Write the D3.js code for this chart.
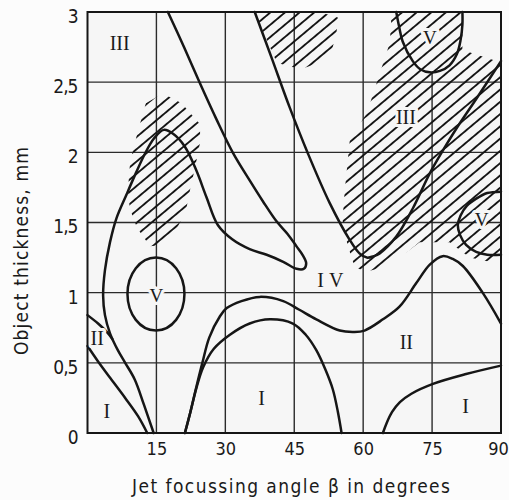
<!DOCTYPE html>
<html>
<head>
<meta charset="utf-8">
<script src="https://cdn.jsdelivr.net/npm/d3@7"></script>
<style>
  html, body { margin: 0; padding: 0; background: #fcfcfc; }
  svg { display: block; }
  text { font-family: "DejaVu Sans Condensed", "DejaVu Sans", sans-serif; fill: #1a1a1a; }
  .roman { font-family: "Liberation Serif", "DejaVu Serif", serif; }
</style>
</head>
<body>
<svg id="chart" width="509" height="500"></svg>
<script>
// ---------- data: jet focussing angle (deg) vs object thickness (mm) ----------
const xTickValues = [15, 30, 45, 60, 75, 90];
const yTickValues = [0, 0.5, 1, 1.5, 2, 2.5, 3];
const yTickLabels = ["0", "0,5", "1", "1,5", "2", "2,5", "3"];

// lower I / II boundary near the left edge
const boundaryLeftI = [[0, 0.62], [2.3, 0.51], [5, 0.39], [8.2, 0.25], [11, 0.12], [13, 0]];
// upper II boundary near the left edge, running into the large loop
const boundaryLeftII = [[0, 0.84], [2.3, 0.78], [4.2, 0.72], [5.4, 0.67]];
// large loop: up the left side, over the peak, to the tip and back to the top edge
const boundaryLoop = [
  [14.4, 0], [12.3, 0.2], [10.3, 0.38], [8.2, 0.5], [6.6, 0.59], [4.9, 0.71], [3.8, 0.84],
  [3.4, 0.98], [3.8, 1.16], [4.9, 1.36], [6.3, 1.53], [8.5, 1.70], [10.5, 1.85], [12.5, 1.99],
  [14.5, 2.10], [16.6, 2.16], [18.7, 2.13], [21.2, 2.04], [23.7, 1.87], [25.9, 1.68],
  [28.4, 1.48], [31.5, 1.38], [35.3, 1.31], [39, 1.27], [42.6, 1.22], [45.5, 1.17],
  [47.1, 1.17], [47.6, 1.21], [46.8, 1.27], [45.5, 1.33], [43.5, 1.42], [41.1, 1.51],
  [38.2, 1.65], [35.3, 1.80], [31.6, 2.0], [28, 2.24], [24.5, 2.49], [21, 2.75], [17.5, 3.0]
];
// inner arc enclosing the middle region I
const boundaryMidI = [
  [21.2, 0], [22.4, 0.15], [23.7, 0.32], [25.2, 0.47], [27.5, 0.6], [31, 0.7], [35.3, 0.78],
  [39.7, 0.81], [44.7, 0.78], [47.5, 0.7], [49.8, 0.59], [51.8, 0.45], [53.4, 0.31],
  [54.5, 0.15], [55.3, 0]
];
// II / IV boundary across the chart
const boundaryIIIV = [
  [21.2, 0], [22.4, 0.15], [23.7, 0.33], [25, 0.5], [26.5, 0.68], [28.8, 0.83], [30.3, 0.89],
  [33.5, 0.94], [37.5, 0.97], [42.6, 0.94], [46, 0.88], [49.8, 0.81], [54.9, 0.73], [58, 0.72],
  [60.3, 0.73], [64.3, 0.81], [67.9, 0.9], [71.6, 1.07], [74.5, 1.2], [77.3, 1.26],
  [79.5, 1.24], [81.7, 1.19], [86, 1.0], [90, 0.78]
];
// lower-right I / II boundary
const boundaryRightI = [
  [64.3, 0], [65.1, 0.07], [66.3, 0.15], [68, 0.22], [70.5, 0.28], [75.2, 0.35],
  [82.4, 0.42], [90, 0.48]
];
// V-shaped IV / III boundary
const boundaryIVIII = [
  [36.4, 3.0], [40, 2.68], [44, 2.32], [48, 1.99], [52.7, 1.64], [57, 1.38], [59.2, 1.28],
  [60.8, 1.25], [62.3, 1.26], [63.6, 1.28], [67.2, 1.40], [70.8, 1.6], [74.5, 1.85],
  [77.3, 2.01], [80.3, 2.17], [84.6, 2.38], [90, 2.65]
];
// zone V pocket at the top edge
const zoneVTop = [
  [67.2, 3.0], [67.8, 2.9], [68.6, 2.79], [70.8, 2.65], [72.5, 2.59], [74.5, 2.57],
  [76.7, 2.58], [78.8, 2.62], [80.4, 2.70], [81.2, 2.8], [81.6, 2.91], [81.6, 3.0]
];
// zone V pocket at the right edge
const zoneVRight = [
  [90, 1.72], [87, 1.71], [84.6, 1.67], [82.6, 1.62], [81.2, 1.55], [80.6, 1.48],
  [81.1, 1.41], [82.4, 1.34], [84.6, 1.29], [87, 1.27], [90, 1.27]
];
// zone V island on the left: centre and half-axes
const zoneVLeftCentre = [14.9, 0.99];
const zoneVLeftRadii = [6.2, 0.26];

// hatched (transition) areas
const hatchPeak = [
  [12.7, 2.35], [16.4, 2.42], [20.5, 2.35], [24.5, 2.20], [24.5, 2.07], [23.4, 1.89],
  [22.3, 1.73], [21.4, 1.58], [19.0, 1.43], [16.4, 1.34], [13.6, 1.33], [10.8, 1.46],
  [9.2, 1.60], [8.8, 1.73], [9.2, 1.90], [9.9, 2.02], [11.4, 2.20]
];
const hatchTop = [
  [36.4, 3.0], [50.5, 3.0], [54.5, 2.96], [54.2, 2.85], [53.2, 2.73], [50.5, 2.64],
  [47, 2.6], [44, 2.61], [41.2, 2.64], [38.8, 2.82]
];
const hatchRight = [
  [66.2, 3.0], [81.6, 3.0], [81.6, 2.73], [90, 2.64], [90, 1.25], [87.5, 1.22], [83.2, 1.25],
  [78.8, 1.36], [76.0, 1.36], [72.3, 1.36], [69.5, 1.29], [64.2, 1.18], [60.8, 1.15],
  [58.2, 1.18], [56.6, 1.34], [55.5, 1.52], [56, 1.73], [57.1, 2.09], [60.8, 2.28],
  [62.9, 2.49], [65.8, 2.78]
];

// region names and where they sit
const regionNames = ["III", "III", "V", "V", "V", "IV", "II", "II", "I", "I", "I"];
const regionAngles = [7, 69.3, 74.5, 15.0, 85.8, 53.4, 69.4, 2.1, 4.2, 37.9, 82.3];
const regionThickness = [2.78, 2.25, 2.82, 0.98, 1.52, 1.09, 0.65, 0.68, 0.16, 0.25, 0.19];

// ---------- layout ----------
const svg = d3.select("#chart");
const x = d3.scaleLinear().domain([0, 90]).range([87.5, 501]);
const y = d3.scaleLinear().domain([0, 3]).range([433, 12]);
const plotBg = "#f6f6f6";
const ink = "#161616";

const hatchGap = 9.4;
const defs = svg.append("defs");
defs.append("pattern")
  .attr("id", "hatch")
  .attr("patternUnits", "userSpaceOnUse")
  .attr("width", hatchGap).attr("height", hatchGap)
  .attr("patternTransform", "rotate(-40)")
  .append("line")
  .attr("x1", -1).attr("x2", hatchGap + 1).attr("y1", hatchGap / 2).attr("y2", hatchGap / 2)
  .attr("stroke", ink).attr("stroke-width", 1.9);

// plot background
svg.append("rect")
  .attr("x", x(0)).attr("y", y(3))
  .attr("width", x(90) - x(0)).attr("height", y(0) - y(3))
  .attr("fill", plotBg);

// grid lines
const grid = svg.append("g").attr("stroke", "#2b2b2b").attr("stroke-width", 1.4);
grid.selectAll("line.v").data(xTickValues.slice(0, -1)).join("line")
  .attr("x1", d => x(d)).attr("x2", d => x(d))
  .attr("y1", y(0)).attr("y2", y(3));
grid.selectAll("line.h").data(yTickValues.slice(1, -1)).join("line")
  .attr("x1", x(0)).attr("x2", x(90))
  .attr("y1", d => y(d)).attr("y2", d => y(d));

const smooth = d3.line()
  .x(d => x(d[0])).y(d => y(d[1]))
  .curve(d3.curveCatmullRom.alpha(0.5));
const area = d3.line()
  .x(d => x(d[0])).y(d => y(d[1]))
  .curve(d3.curveLinearClosed);

// top V pocket is clear of grid lines
svg.append("path").attr("d", smooth(zoneVTop)).attr("fill", plotBg).attr("stroke", "none");

// hatched areas
[hatchPeak, hatchTop, hatchRight].forEach(poly => {
  svg.append("path").attr("d", area(poly)).attr("fill", "url(#hatch)");
});

// zone boundaries
const curves = svg.append("g")
  .attr("fill", "none").attr("stroke", ink)
  .attr("stroke-width", 2.5).attr("stroke-linejoin", "round").attr("stroke-linecap", "round");
[boundaryLeftI, boundaryLeftII, boundaryLoop, boundaryMidI, boundaryIIIV,
 boundaryRightI, boundaryIVIII, zoneVTop, zoneVRight].forEach(c => {
  curves.append("path").attr("d", smooth(c));
});
curves.append("ellipse")
  .attr("cx", x(zoneVLeftCentre[0])).attr("cy", y(zoneVLeftCentre[1]))
  .attr("rx", x(zoneVLeftRadii[0]) - x(0)).attr("ry", y(0) - y(zoneVLeftRadii[1]));

// region names
svg.append("g").selectAll("text").data(regionNames).join("text")
  .attr("class", "roman")
  .attr("x", (d, i) => x(regionAngles[i]))
  .attr("y", (d, i) => y(regionThickness[i]))
  .attr("dy", "0.35em")
  .attr("text-anchor", "middle")
  .attr("font-size", d => d === "V" ? 19 : 20)
  .attr("letter-spacing", d => d === "IV" ? 5 : 0)
  .attr("stroke", plotBg).attr("stroke-width", 6).attr("paint-order", "stroke")
  .attr("stroke-linejoin", "round")
  .text(d => d);

// frame
svg.append("rect")
  .attr("x", x(0)).attr("y", y(3))
  .attr("width", x(90) - x(0)).attr("height", y(0) - y(3))
  .attr("fill", "none").attr("stroke", ink).attr("stroke-width", 2);

// axes (labels only; grid and frame are drawn above)
const xAxis = svg.append("g")
  .attr("transform", `translate(0,${y(0)})`)
  .call(d3.axisBottom(x).tickValues(xTickValues).tickSize(0).tickPadding(8));
const yAxis = svg.append("g")
  .attr("transform", `translate(${x(0) - 10},0)`)
  .call(d3.axisLeft(y).tickValues(yTickValues).tickSize(0).tickPadding(0)
    .tickFormat((d, i) => yTickLabels[i]));
[xAxis, yAxis].forEach(a => {
  a.select(".domain").remove();
  a.selectAll("text")
    .attr("font-family", "DejaVu Sans Condensed, DejaVu Sans, sans-serif")
    .attr("font-size", 19).attr("fill", ink);
});
xAxis.selectAll("text").attr("dy", "0.75em").attr("font-size", 18);
// keep the last label inside the page
xAxis.selectAll(".tick").filter(d => d === 90).select("text").attr("dx", -3);
yAxis.selectAll("text").attr("dy", "0.55em").attr("letter-spacing", -1);

// axis titles
svg.append("text")
  .attr("x", 132).attr("y", 493)
  .attr("font-size", 19)
  .attr("textLength", 318).attr("lengthAdjust", "spacing")
  .text("Jet focussing angle β in degrees");
svg.append("text")
  .attr("transform", "translate(28,251) rotate(-90)")
  .attr("text-anchor", "middle")
  .attr("font-size", 19)
  .attr("textLength", 208).attr("lengthAdjust", "spacing")
  .text("Object thickness, mm");
</script>
</body>
</html>
